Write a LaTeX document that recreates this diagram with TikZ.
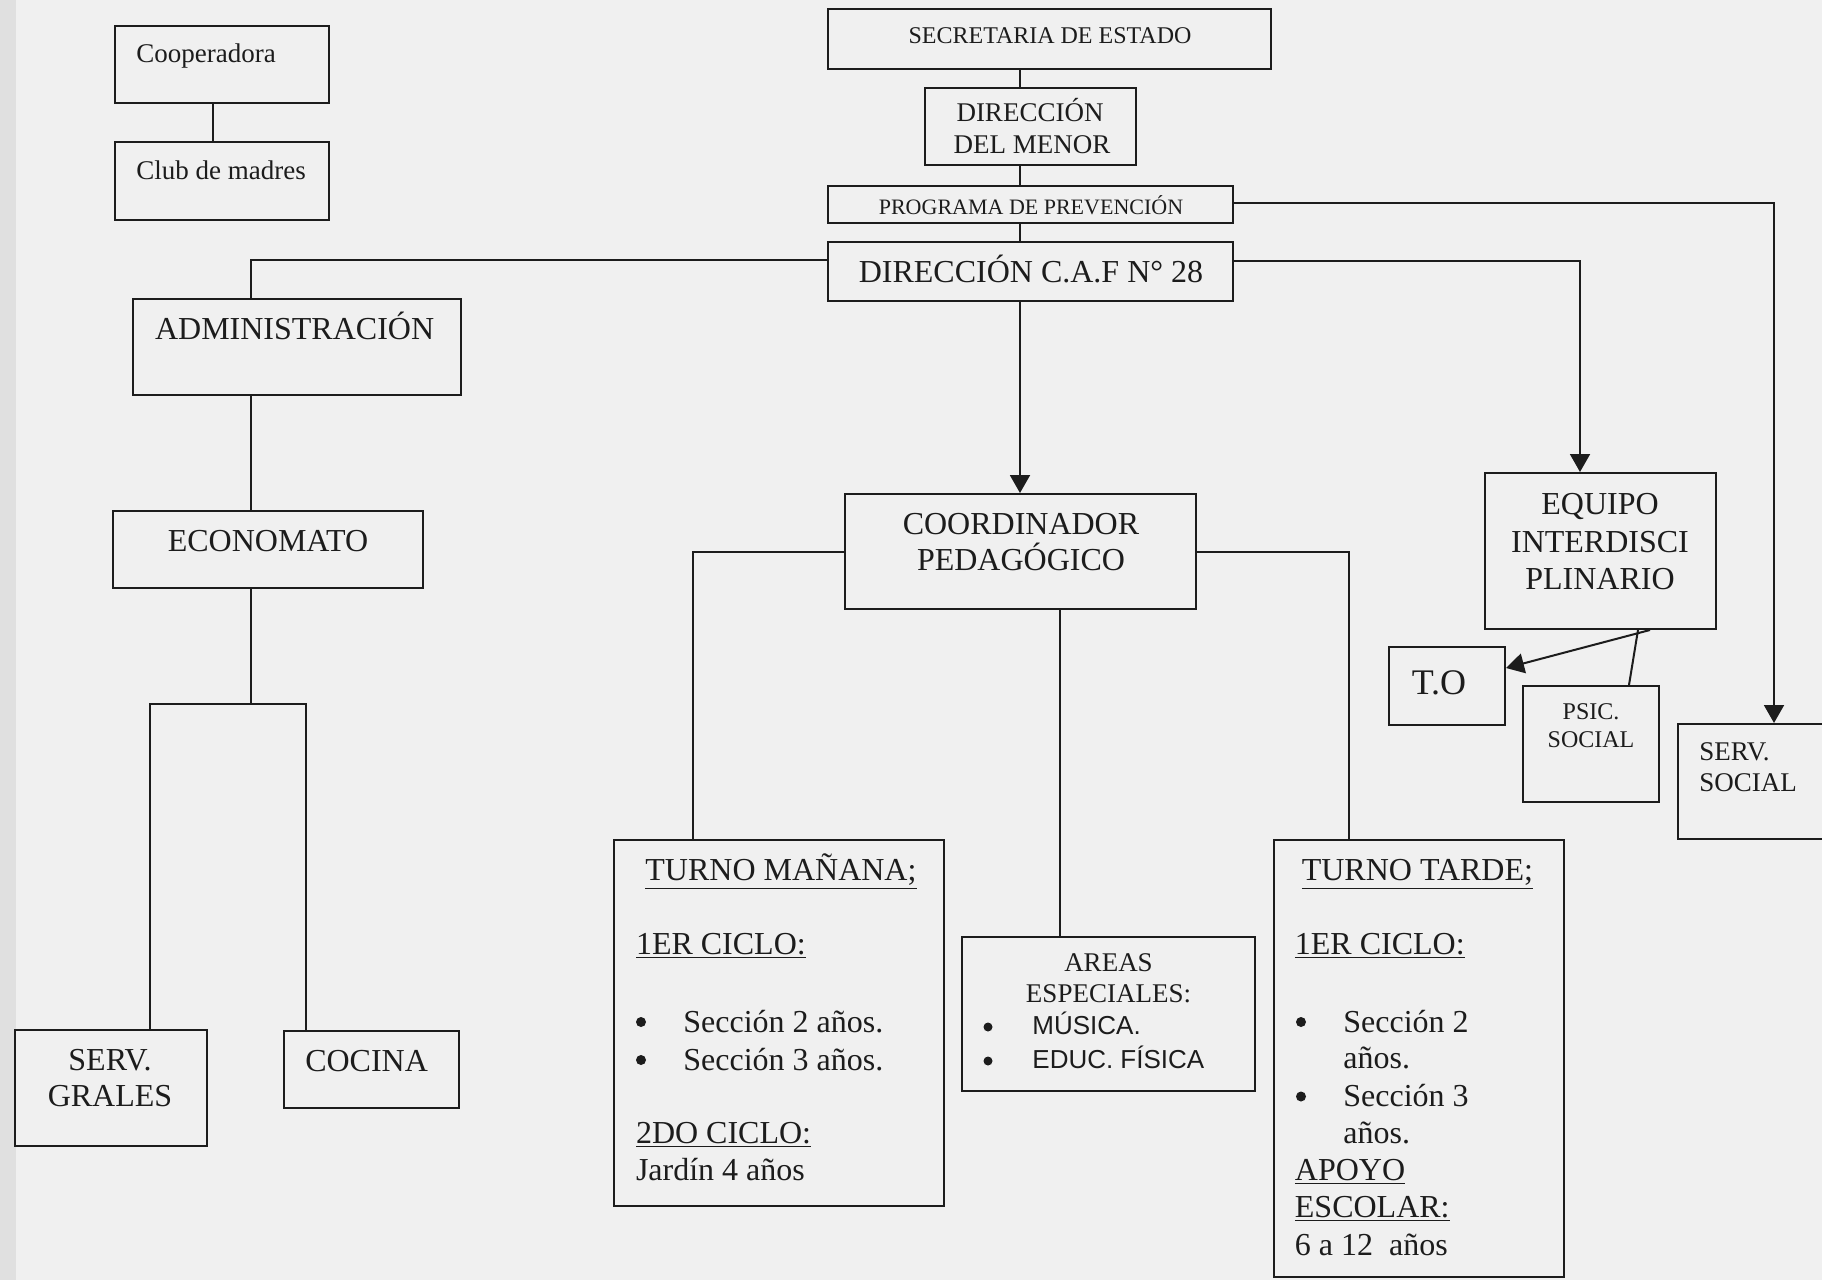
\documentclass[tikz,border=0pt]{standalone}
\usepackage{fontspec}
\setmainfont{Liberation Serif}
\newfontfamily\arialf{Liberation Sans}
\usetikzlibrary{arrows.meta,fit}
\definecolor{paper}{RGB}{240,240,240}
\definecolor{band}{RGB}{224,224,224}
\definecolor{ink}{RGB}{28,28,28}
\newcommand{\szA}{\fontsize{16}{19}\selectfont}
\newcommand{\szB}{\fontsize{13.5}{16}\selectfont}
\newcommand{\szC}{\fontsize{12}{14}\selectfont}
\newcommand{\szD}{\fontsize{11}{13}\selectfont}
\newcommand{\szE}{\fontsize{18}{21}\selectfont}
\newcommand{\szF}{\fontsize{13}{15}\selectfont}
\tikzset{
  box/.style={draw=ink, line width=1pt, inner sep=0pt, fit={#1}},
  conn/.style={draw=ink, line width=1pt},
  arr/.style={conn, -{Triangle[length=9pt,width=10pt]}},
  tx/.style={inner sep=0pt, text=ink},
  dot/.style={circle, fill=ink, draw=none, inner sep=0pt, minimum size=#1},
  dot/.default=5pt,
}
\begin{document}
\begin{tikzpicture}[x=0.5pt,y=-0.5pt]
\useasboundingbox (0,0) rectangle (1822,1280);
\fill[paper] (0,0) rectangle (1822,1280);
\fill[band] (0,0) rectangle (16,1280);

% boxes
\node[box={(115,26) (329,103)}] (coop) {};
\node[box={(115,142) (329,220)}] (club) {};
\node[box={(828,9) (1271,69)}] (sec) {};
\node[box={(925,88) (1136,165)}] (dirm) {};
\node[box={(828,186) (1233,223)}] (prog) {};
\node[box={(828,242) (1233,301)}] (caf) {};
\node[box={(133,299) (461,395)}] (admin) {};
\node[box={(113,511) (423,588)}] (econ) {};
\node[box={(15,1030) (207,1146)}] (servg) {};
\node[box={(284,1031) (459,1108)}] (cocina) {};
\node[box={(1485,473) (1716,629)}] (equipo) {};
\node[box={(1678,724) (1826,839)}] (servsoc) {};
\node[box={(1389,647) (1505,725)}] (to) {};
\node[box={(1523,686) (1659,802)}] (psic) {};
\node[box={(845,494) (1196,609)}] (coord) {};
\node[box={(614,840) (944,1206)}] (tm) {};
\node[box={(962,937) (1255,1091)}] (areas) {};
\node[box={(1274,840) (1564,1277)}] (tt) {};

% texts
\node[tx,anchor=base west] (tcoop) at (136,62) {\szB Cooperadora};
\node[tx,anchor=base west] (tclub) at (136,179) {\szB Club de madres};
\node[tx,anchor=base] (tsec) at (1050,43) {\szC SECRETARIA DE ESTADO};
\node[tx,anchor=base] (tdm1) at (1030,121.6) {\szB DIRECCIÓN};
\node[tx,anchor=base] (tdm2) at (1032,153) {\szB DEL MENOR};
\node[tx,anchor=base] (tprog) at (1031,214) {\szD PROGRAMA DE PREVENCIÓN};
\node[tx,anchor=base] (tcaf) at (1031,282.5) {\szA DIRECCIÓN C.A.F N° 28};
\node[tx,anchor=base] (tadmin) at (294.6,339) {\szA ADMINISTRACIÓN};
\node[tx,anchor=base] (tecon) at (268,551) {\szA ECONOMATO};
\node[tx,anchor=base] (tsg1) at (110,1070.6) {\szA SERV.};
\node[tx,anchor=base] (tsg2) at (110,1106) {\szA GRALES};
\node[tx,anchor=base] (tcoc) at (366.6,1071.6) {\szA COCINA};
\node[tx,anchor=base] (teq1) at (1600,514.6) {\szA EQUIPO};
\node[tx,anchor=base] (teq2) at (1600,552) {\szA INTERDISCI};
\node[tx,anchor=base] (teq3) at (1600,589.6) {\szA PLINARIO};
\node[tx,anchor=base] (tto) at (1439,694) {\szE T.O};
\node[tx,anchor=base] (tps1) at (1591,719) {\szC PSIC.};
\node[tx,anchor=base] (tps2) at (1591,747) {\szC SOCIAL};
\node[tx,anchor=base west] (tss1) at (1699,760) {\szB SERV.};
\node[tx,anchor=base west] (tss2) at (1699,791) {\szB SOCIAL};
\node[tx,anchor=base] (tco1) at (1021,534.6) {\szA COORDINADOR};
\node[tx,anchor=base] (tco2) at (1021,570.6) {\szA PEDAGÓGICO};

\node[tx,anchor=base west] (tm1) at (645,880.6) {\szA \underline{TURNO MAÑANA;}};
\node[tx,anchor=base west] (tm2) at (635.6,954) {\szA \underline{1ER CICLO:}};
\node[dot] (tmb1) at (641,1022) {};
\node[tx,anchor=base west] (tm3) at (683,1032) {\szA Sección 2 años.};
\node[dot] (tmb2) at (641,1060) {};
\node[tx,anchor=base west] (tm4) at (683,1070.3) {\szA Sección 3 años.};
\node[tx,anchor=base west] (tm5) at (635.6,1143.6) {\szA \underline{2DO CICLO:}};
\node[tx,anchor=base west] (tm6) at (635.6,1180.6) {\szA Jardín 4 años};

\node[tx,anchor=base] (ta1) at (1108.5,971) {\szB AREAS};
\node[tx,anchor=base] (ta2) at (1108.5,1002.4) {\szB ESPECIALES:};
\node[dot=4.5pt] (tab1) at (988,1027) {};
\node[tx,anchor=base west] (ta3) at (1032,1034.6) {\szF\arialf MÚSICA.};
\node[dot=4.5pt] (tab2) at (988,1061) {};
\node[tx,anchor=base west] (ta4) at (1032,1068.6) {\szF\arialf EDUC. FÍSICA};

\node[tx,anchor=base west] (tt1) at (1301.4,880.6) {\szA \underline{TURNO TARDE;}};
\node[tx,anchor=base west] (tt2) at (1294.5,954) {\szA \underline{1ER CICLO:}};
\node[dot] (ttb1) at (1301,1022) {};
\node[tx,anchor=base west] (tt3) at (1343,1032) {\szA Sección 2};
\node[tx,anchor=base west] (tt4) at (1343,1068) {\szA años.};
\node[dot] (ttb2) at (1301,1096.5) {};
\node[tx,anchor=base west] (tt5) at (1343,1106.4) {\szA Sección 3};
\node[tx,anchor=base west] (tt6) at (1343,1143.6) {\szA años.};
\node[tx,anchor=base west] (tt7) at (1294.5,1180.6) {\szA \underline{APOYO}};
\node[tx,anchor=base west] (tt8) at (1294.5,1217.6) {\szA \underline{ESCOLAR:}};
\node[tx,anchor=base west] (tt9) at (1294.5,1255) {\szA 6 a 12\ \ años};

% junction coordinates
\coordinate (xa) at (213,0);
\coordinate (xm) at (1020,0);
\coordinate (jl) at (251,260);
\coordinate (je) at (251,704);
\coordinate (xg) at (150,0);
\coordinate (xk) at (306,0);
\coordinate (jr) at (1580,261);
\coordinate (js) at (1774,203);
\coordinate (jcl) at (692.5,552);
\coordinate (jcr) at (1349,552);
\coordinate (xc) at (1060,0);
\coordinate (eqa) at (1650,0);
\coordinate (toy) at (0,668);
\coordinate (eqb) at (1638,0);
\coordinate (psx) at (1629,0);

% connectors
\draw[conn] (coop.south -| xa) -- (club.north -| xa);
\draw[conn] (sec.south -| xm) -- (dirm.north -| xm);
\draw[conn] (dirm.south -| xm) -- (prog.north -| xm);
\draw[conn] (prog.south -| xm) -- (caf.north -| xm);
\draw[arr] (caf.south -| xm) -- (coord.north -| xm);
\draw[conn] (caf.west |- jl) -- (jl) -- (admin.north -| jl);
\draw[conn] (admin.south -| jl) -- (econ.north -| jl);
\draw[conn] (econ.south -| je) -- (je);
\draw[conn] (servg.north -| xg) -- (xg |- je) -- (xk |- je) -- (cocina.north -| xk);
\draw[arr] (caf.east |- jr) -- (jr) -- (equipo.north -| jr);
\draw[arr] (prog.east |- js) -- (js) -- (servsoc.north -| js);
\draw[arr] (equipo.south -| eqa) -- (to.east |- toy);
\draw[conn] (equipo.south -| eqb) -- (psic.north -| psx);
\draw[conn] (coord.west |- jcl) -- (jcl) -- (tm.north -| jcl);
\draw[conn] (coord.east |- jcr) -- (jcr) -- (tt.north -| jcr);
\draw[conn] (coord.south -| xc) -- (areas.north -| xc);
\end{tikzpicture}
\end{document}
